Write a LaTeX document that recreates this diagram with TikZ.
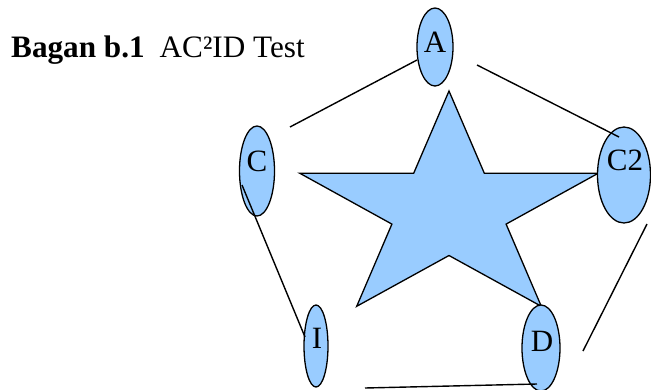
\documentclass[tikz,border=0pt]{standalone}
\usepackage{fontspec}
\setmainfont{Liberation Serif}
\usetikzlibrary{shapes.geometric}
\definecolor{fillblue}{HTML}{99CCFF}
\begin{document}
\begin{tikzpicture}[x=1pt,y=-1pt,
  ell/.style={ellipse,draw=black,line width=1.3pt,fill=fillblue,inner sep=0pt},
  lbl/.style={inner sep=0pt,font=\fontsize{31}{36}\selectfont},
  conn/.style={draw=black,line width=1.4pt},
  starshape/.style={draw=black,line width=1.3pt,fill=fillblue,line join=miter}]
\useasboundingbox (0,0) rectangle (651,389);
% title
\node[anchor=base west,inner sep=0pt,font=\fontsize{31.2}{36}\selectfont] (title) at (11,57)
  {\textbf{Bagan b.1}\hspace{15pt}AC²ID Test};
% star
\path[starshape] (449,91) -- (484.3,173.2) -- (598.3,173.2) -- (506.1,224.1) -- (541.3,306.3)
  -- (449,255.5) -- (356.7,306.3) -- (391.9,224.1) -- (299.7,173.2) -- (413.7,173.2) -- cycle;
% ellipses
\node[ell,minimum width=36pt,minimum height=78pt] (A) at (435,47) {};
\node[ell,minimum width=35pt,minimum height=90pt] (C) at (257,171) {};
\node[ell,minimum width=53pt,minimum height=96pt] (C2) at (624,175) {};
\node[ell,minimum width=24pt,minimum height=82pt] (I) at (316,346) {};
\node[ell,minimum width=38pt,minimum height=86pt] (D) at (541,348) {};
% labels
\node[lbl] (tA) at (435,42) {A};
\node[lbl] (tC) at (257,161) {C};
\node[lbl] (tC2) at (625,160) {C2};
\node[lbl] (tI) at (317,338) {I};
\node[lbl] (tD) at (542,341) {D};
% connector end points
\coordinate (ac1) at (290,127);
\coordinate (ac2) at (417,60);
\coordinate (ad1) at (477,65);
\coordinate (ad2) at (619,137);
\coordinate (ci1) at (242,185);
\coordinate (ci2) at (305,337);
\coordinate (cd1) at (647,224);
\coordinate (cd2) at (583,351);
\coordinate (id1) at (365,388);
\coordinate (id2) at (537,384);
% connectors
\draw[conn] (ac1) -- (ac2);
\draw[conn] (ad1) -- (ad2);
\draw[conn] (ci1) -- (ci2);
\draw[conn] (cd1) -- (cd2);
\draw[conn] (id1) -- (id2);
\end{tikzpicture}
\end{document}
